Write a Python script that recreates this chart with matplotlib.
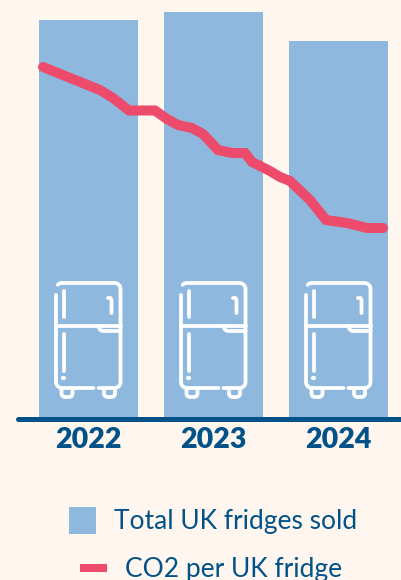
#!/usr/bin/env python3
"""UK fridge sales against CO2 per fridge, 2022-2024."""

import numpy as np
import matplotlib
matplotlib.use("Agg")
import matplotlib.pyplot as plt
from matplotlib.patches import Rectangle

# === Data ===
YEARS = [2022, 2023, 2024]
FRIDGES_SOLD = [398, 406, 377]

CO2_TIME = [2021.636, 2022.092, 2022.196, 2022.324, 2022.532, 2022.628, 2022.716,
            2022.828, 2022.916, 2023.036, 2023.148, 2023.252, 2023.308, 2023.452,
            2023.532, 2023.612, 2023.772, 2023.900, 2024.068, 2024.228, 2024.356]
CO2_PER_FRIDGE = [351, 328, 320, 307.5, 307.5, 299, 293, 290, 284, 268, 265,
                  265, 256, 247, 241, 237, 218, 198, 195, 190, 190]

LEGEND_BARS = "Total UK fridges sold"
LEGEND_LINE = "CO2 per UK fridge"

# === Style ===
BG = "#FEF6EF"
BLUE = "#8EB8DE"
RED = "#EC4B6B"
NAVY = "#005288"
FONT = "Lato"
PX = 0.72  # one pixel in points at dpi=100
YEAR_PX = 125  # width of one year along the x axis


def to_x(px):
    """Pixel column to x axis value."""
    return 2022 + (px - 88.5) / YEAR_PX


def to_y(px):
    """Pixel row to y axis value."""
    return 418 - px


def draw_fridge(ax, year):
    """Outline fridge icon sitting on the bar of a given year."""
    def stroke(xs, ys, lw=3.8):
        ax.plot(year + np.array(xs) / YEAR_PX, to_y(np.array(ys)), color="white",
                lw=lw * PX, solid_capstyle="round", solid_joinstyle="round", zorder=3)

    def arc(cx, cy, r, a0, a1):
        t = np.radians(np.linspace(a0, a1, 10))
        return list(cx + r * np.cos(t)), list(cy - r * np.sin(t))

    r = 6
    left, right, top, bottom = -32.5, 32, 283, 388

    # carcass, open at the top left and along the bottom
    xs_tl, ys_tl = arc(left + r, top + r, r, 135, 90)
    xs_tr, ys_tr = arc(right - r, top + r, r, 90, 0)
    xs_br, ys_br = arc(right - r, bottom - r, r, 0, -90)
    stroke(xs_tl + xs_tr + xs_br + [10], ys_tl + ys_tr + ys_br + [bottom])
    xs_bl, ys_bl = arc(left + r, bottom - r, r, 180, 270)
    stroke([left] + xs_bl + [5], [295] + ys_bl + [bottom])

    # door split and handles
    stroke([left, right], [326, 326])
    xs_h, ys_h = arc(15, 326, 5, 180, 270)
    stroke(xs_h + [right], ys_h + [331])
    stroke([19.5, 22, 23, 23], [298, 298, 300, 313])
    stroke([-25, -25], [291, 317])
    stroke([-25, -25], [334, 371])
    stroke([-25, -25.01], [377.5, 377.5], lw=4.2)

    # feet
    for x0, x1 in [(-27, -16), (15.5, 26.5)]:
        xs_a, ys_a = arc(x0 + 3.5, 393.5, 3.5, 180, 270)
        xs_b, ys_b = arc(x1 - 3.5, 393.5, 3.5, 270, 360)
        stroke([x0] + xs_a + xs_b + [x1], [389] + ys_a + ys_b + [389])


fig = plt.figure(figsize=(4.01, 5.80), dpi=100, facecolor=BG)
ax = fig.add_axes([0, 0, 1, 1])
ax.set_xlim(to_x(0), to_x(401))
ax.set_ylim(to_y(580), to_y(0))
ax.axis("off")

ax.bar(YEARS, FRIDGES_SOLD, width=99 / YEAR_PX, color=BLUE, zorder=1)

for year in YEARS:
    draw_fridge(ax, year)
    ax.text(year, to_y(439.5), str(year), color=NAVY, fontsize=20.5, fontweight="heavy",
            family=FONT, ha="center", va="center")

ax.plot(CO2_TIME, CO2_PER_FRIDGE, color=RED, lw=10 * PX, zorder=4,
        solid_capstyle="round", solid_joinstyle="miter")

# baseline runs off the right edge
ax.plot([to_x(17.5), to_x(410)], [to_y(418.5), to_y(418.5)], color=NAVY, lw=5 * PX,
        solid_capstyle="round", zorder=5)

# legend
ax.add_patch(Rectangle((to_x(69), to_y(534)), 27 / YEAR_PX, 27, color=BLUE, lw=0))
ax.add_patch(Rectangle((to_x(80), to_y(572)), 27 / YEAR_PX, 8, color=RED, lw=0))
ax.text(to_x(114), to_y(521.5), LEGEND_BARS, color=NAVY, fontsize=19, family=FONT,
        ha="left", va="center")
ax.text(to_x(125), to_y(569.5), LEGEND_LINE, color=NAVY, fontsize=19, family=FONT,
        ha="left", va="center")

fig.savefig("out.png", dpi=100, facecolor=BG)
